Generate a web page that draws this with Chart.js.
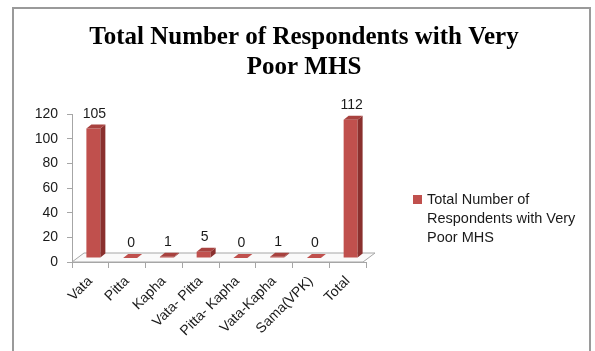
<!DOCTYPE html>
<html>
<head>
<meta charset="utf-8">
<script src="https://cdn.jsdelivr.net/npm/chart.js@4.4.1/dist/chart.umd.min.js"></script>
<style>
    html, body { margin: 0; padding: 0; background: #fff; }
    #wrap { position: relative; width: 595px; height: 351px; overflow: hidden; }
    #frame { position: absolute; left: 12px; top: 7px; width: 579px; height: 400px; border: 2px solid #9a9a9a; box-sizing: border-box; }
    #chart { position: absolute; left: 0; top: 0; }
</style>
</head>
<body>
<div id="wrap">
    <div id="frame"></div>
    <canvas id="chart" width="595" height="351"></canvas>
</div>
<script>
// chart data
const titleLines = ['Total Number of Respondents with Very', 'Poor MHS'];
const seriesLabel = 'Total Number of Respondents with Very Poor MHS';
const categories = ['Vata', 'Pitta', 'Kapha', 'Vata- Pitta', 'Pitta- Kapha', 'Vata-Kapha', 'Sama(VPK)', 'Total'];
const respondents = [105, 0, 1, 5, 0, 1, 0, 112];
const yTicks = [0, 20, 40, 60, 80, 100, 120];

const FRONT = '#c0504d';
const SIDE = '#8a302e';
const TOP = '#a8423f';
const SHIFT_X = 3, SHIFT_Y = -4;   // front face sits a little back on the floor
const DEPTH_X = 5, DEPTH_Y = -4;   // bar depth

// floor of the 3D plot, drawn under the bars
const floorPlugin = {
    id: 'floor',
    beforeDatasetsDraw(chart) {
        const ctx = chart.ctx;
        const area = chart.chartArea;
        const y0 = chart.scales.y.getPixelForValue(0);
        ctx.save();
        ctx.beginPath();
        ctx.moveTo(area.left, y0);
        ctx.lineTo(area.right - 3, y0);
        ctx.lineTo(area.right + 9, y0 - 9);
        ctx.lineTo(area.left + 12, y0 - 9);
        ctx.closePath();
        ctx.fillStyle = '#fafafa';
        ctx.fill();
        ctx.strokeStyle = '#a6a6a6';
        ctx.lineWidth = 1;
        ctx.stroke();
        ctx.restore();
        ctx.save();
        ctx.translate(SHIFT_X, SHIFT_Y);
    },
    afterDatasetsDraw(chart) {
        const ctx = chart.ctx;
        const meta = chart.getDatasetMeta(0);
        meta.data.forEach((bar, i) => {
            const half = bar.width / 2;
            const l = bar.x - half, r = bar.x + half;
            const t = bar.y, b = bar.base;
            // side
            ctx.beginPath();
            ctx.moveTo(r, b);
            ctx.lineTo(r + DEPTH_X, b + DEPTH_Y);
            ctx.lineTo(r + DEPTH_X, t + DEPTH_Y);
            ctx.lineTo(r, t);
            ctx.closePath();
            ctx.fillStyle = SIDE;
            ctx.fill();
            // top
            ctx.beginPath();
            ctx.moveTo(l, t);
            ctx.lineTo(l + DEPTH_X, t + DEPTH_Y);
            ctx.lineTo(r + DEPTH_X, t + DEPTH_Y);
            ctx.lineTo(r, t);
            ctx.closePath();
            ctx.fillStyle = respondents[i] === 0 ? FRONT : TOP;
            ctx.fill();
            // value label
            ctx.fillStyle = '#1a1a1a';
            ctx.font = '14px "Liberation Sans", Arial, sans-serif';
            ctx.textAlign = 'center';
            ctx.textBaseline = 'alphabetic';
            ctx.fillText(String(respondents[i]), bar.x + 1, t - 11);
        });
        ctx.restore();
    }
};

// title and right-hand legend
const textPlugin = {
    id: 'texts',
    afterDraw(chart) {
        const ctx = chart.ctx;
        ctx.save();
        ctx.fillStyle = '#000';
        ctx.font = 'bold 25px "Liberation Serif", "Times New Roman", serif';
        ctx.textAlign = 'center';
        ctx.textBaseline = 'alphabetic';
        titleLines.forEach((line, i) => ctx.fillText(line, 304, 44 + i * 30));

        // legend
        ctx.font = '14.5px "Liberation Sans", Arial, sans-serif';
        ctx.textAlign = 'left';
        const words = seriesLabel.split(' ');
        const lines = [];
        let cur = '';
        words.forEach(w => {
            const test = cur ? cur + ' ' + w : w;
            if (ctx.measureText(test).width > 160 && cur) {
                lines.push(cur);
                cur = w;
            } else {
                cur = test;
            }
        });
        if (cur) lines.push(cur);
        ctx.fillStyle = FRONT;
        ctx.fillRect(413, 195, 9, 9);
        ctx.fillStyle = '#1a1a1a';
        lines.forEach((line, i) => ctx.fillText(line, 427, 204 + i * 19));
        ctx.restore();
    }
};

const ctx = document.getElementById('chart').getContext('2d');
new Chart(ctx, {
    type: 'bar',
    data: {
        labels: categories,
        datasets: [{
            label: seriesLabel,
            data: respondents,
            backgroundColor: FRONT,
            borderWidth: 0,
            categoryPercentage: 1,
            barPercentage: 0.38
        }]
    },
    options: {
        responsive: false,
        animation: false,
        layout: { padding: { left: 0, top: 114, right: 229, bottom: 0 } },
        plugins: {
            legend: { display: false },
            title: { display: false },
            tooltip: { enabled: false }
        },
        scales: {
            x: {
                afterFit: (scale) => { scale.height = 89; },
                border: { display: true, color: '#a6a6a6', width: 1 },
                grid: { display: true, drawOnChartArea: false, drawTicks: true, tickLength: 6, color: '#a6a6a6', offset: true },
                ticks: {
                    color: '#1a1a1a',
                    font: { family: '"Liberation Sans", Arial, sans-serif', size: 14 },
                    minRotation: 45,
                    maxRotation: 45,
                    autoSkip: false,
                    padding: 5
                }
            },
            y: {
                min: 0,
                max: 120,
                afterFit: (scale) => { scale.width = 72; },
                afterBuildTicks: (scale) => { scale.ticks = yTicks.map(v => ({ value: v })); },
                border: { display: true, color: '#a6a6a6', width: 1 },
                grid: { display: true, drawOnChartArea: false, drawTicks: true, tickLength: 5, color: '#a6a6a6' },
                ticks: {
                    color: '#1a1a1a',
                    font: { family: '"Liberation Sans", Arial, sans-serif', size: 14 },
                    padding: 9
                }
            }
        }
    },
    plugins: [floorPlugin, textPlugin]
});
</script>
</body>
</html>
